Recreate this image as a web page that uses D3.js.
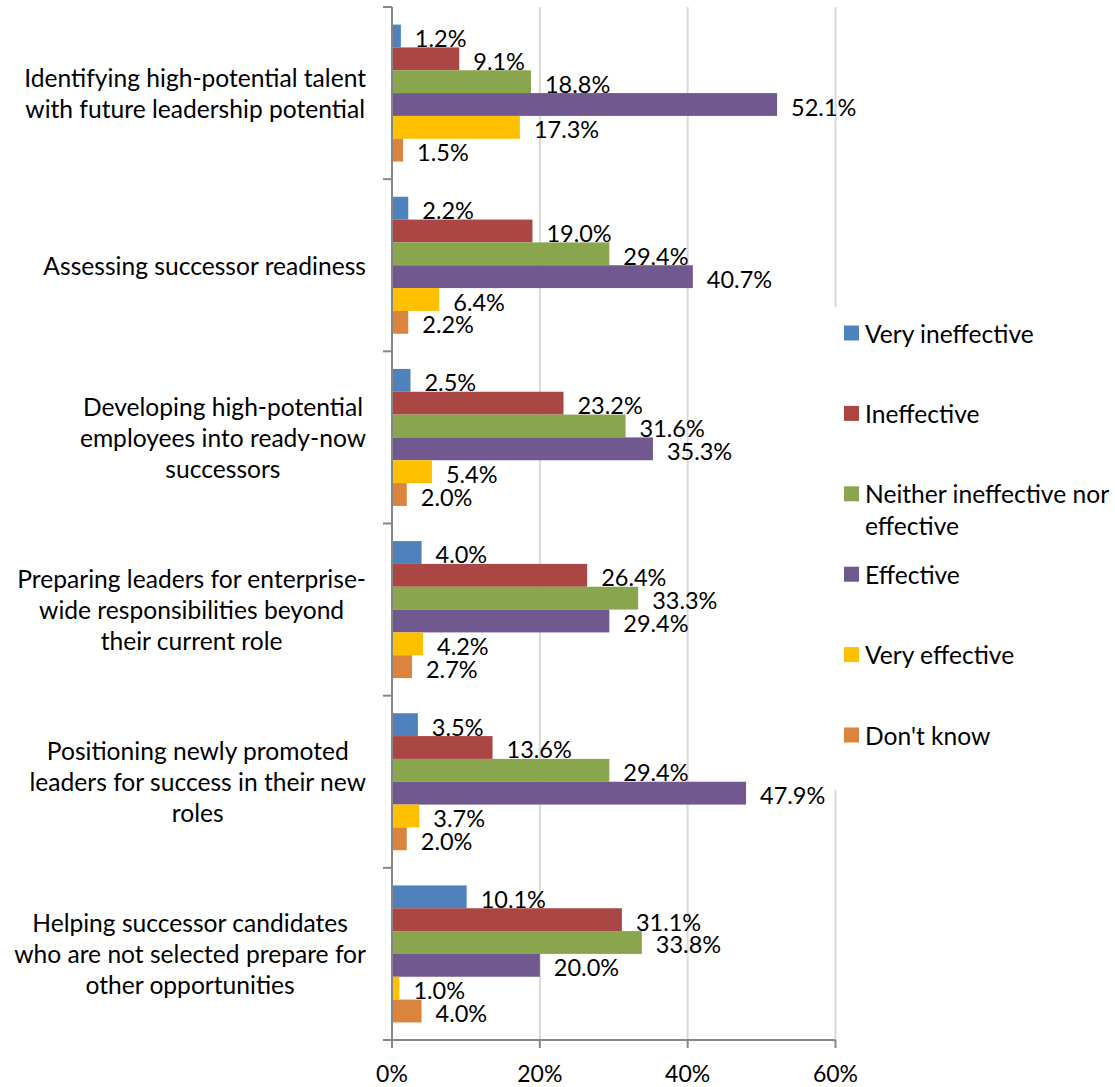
<!DOCTYPE html>
<html>
<head>
<meta charset="utf-8">
<script src="https://cdn.jsdelivr.net/npm/d3@7"></script>
<style>
  html, body { margin: 0; padding: 0; background: #fff; }
  svg { display: block; font-family: Lato, "Open Sans", sans-serif; }
</style>
</head>
<body>
<svg id="chart" width="1115" height="1087"></svg>
<script>
const categories = [
  "Identifying high-potential talent\nwith future leadership potential",
  "Assessing successor readiness",
  "Developing high-potential\nemployees into ready-now\nsuccessors",
  "Preparing leaders for enterprise-\nwide responsibilities beyond\ntheir current role",
  "Positioning newly promoted\nleaders for success in their new\nroles",
  "Helping successor candidates\nwho are not selected prepare for\nother opportunities"
];
const seriesNames = ["Very ineffective", "Ineffective", "Neither ineffective nor effective", "Effective", "Very effective", "Don't know"];
const seriesColors = ["#4F81BD", "#AA4643", "#89A54E", "#71588F", "#FFC000", "#DB843D"];
const veryIneffective = [1.2, 2.2, 2.5, 4.0, 3.5, 10.1];
const ineffective     = [9.1, 19.0, 23.2, 26.4, 13.6, 31.1];
const neither         = [18.8, 29.4, 31.6, 33.3, 29.4, 33.8];
const effective       = [52.1, 40.7, 35.3, 29.4, 47.9, 20.0];
const veryEffective   = [17.3, 6.4, 5.4, 4.2, 3.7, 1.0];
const dontKnow        = [1.5, 2.2, 2.0, 2.7, 2.0, 4.0];
const xTicks = [0, 20, 40, 60];

const seriesValues = [veryIneffective, ineffective, neither, effective, veryEffective, dontKnow];

const svg = d3.select("#chart");
const axisColor = "#868686";
const gridColor = "#D9D9D9";

const x = d3.scaleLinear().domain([0, 60]).range([392, 835.5]);
const y = d3.scaleBand().domain(categories).range([7, 1040]).paddingInner(0).paddingOuter(0);
const ySub = d3.scaleBand().domain(seriesNames).range([0, y.bandwidth()]).paddingInner(0).paddingOuter(0.77);

// gridlines
svg.append("g").selectAll("line").data(xTicks.filter(d => d > 0)).join("line")
  .attr("x1", d => x(d)).attr("x2", d => x(d))
  .attr("y1", 7).attr("y2", 1040)
  .attr("stroke", gridColor).attr("stroke-width", 2);

// legend background (covers gridline)
const legendTop = 307, legendBottom = 790;
svg.append("rect").attr("x", 832).attr("y", legendTop).attr("width", 283).attr("height", legendBottom - legendTop).attr("fill", "#fff");

// bars
const barData = [];
categories.forEach((c, ci) => {
  seriesNames.forEach((s, si) => {
    barData.push({ cat: c, series: s, value: seriesValues[si][ci], color: seriesColors[si] });
  });
});
svg.append("g").selectAll("rect").data(barData).join("rect")
  .attr("x", x(0))
  .attr("y", d => y(d.cat) + ySub(d.series))
  .attr("width", d => x(d.value) - x(0))
  .attr("height", ySub.bandwidth())
  .attr("fill", d => d.color);

// value labels
svg.append("g").selectAll("text").data(barData).join("text")
  .attr("x", d => x(d.value) + 14)
  .attr("y", d => y(d.cat) + ySub(d.series) + ySub.bandwidth() / 2 + 2)
  .attr("dominant-baseline", "central")
  .attr("font-size", 23.5)
  .attr("fill", "#000")
  .text(d => d.value.toFixed(1) + "%");

// y axis
const yAxisG = svg.append("g");
yAxisG.append("line").attr("x1", x(0)).attr("x2", x(0)).attr("y1", 7).attr("y2", 1040)
  .attr("stroke", axisColor).attr("stroke-width", 2);
const boundaries = categories.map(c => y(c)).concat([y(categories[categories.length - 1]) + y.bandwidth()]);
yAxisG.selectAll("line.tick").data(boundaries).join("line").attr("class", "tick")
  .attr("x1", x(0) - 9).attr("x2", x(0)).attr("y1", d => d).attr("y2", d => d)
  .attr("stroke", axisColor).attr("stroke-width", 2);

// category labels
const catG = svg.append("g").attr("font-size", 24.6).attr("fill", "#000");
categories.forEach(c => {
  const lines = c.split("\n");
  const g = catG.append("g");
  const texts = lines.map((l, i) => g.append("text").text(l));
  const maxW = d3.max(texts, t => t.node().getComputedTextLength());
  const cx = 366 - maxW / 2;
  const cy = y(c) + y.bandwidth() / 2;
  const lh = 31;
  texts.forEach((t, i) => {
    t.attr("x", cx).attr("text-anchor", "middle")
     .attr("y", cy + (i - (lines.length - 1) / 2) * lh)
     .attr("dominant-baseline", "central");
  });
});

// x axis
const xAxisG = svg.append("g");
xAxisG.append("line").attr("x1", x(0) - 9).attr("x2", x(60)).attr("y1", 1040).attr("y2", 1040)
  .attr("stroke", axisColor).attr("stroke-width", 2);
xAxisG.selectAll("line.tick").data(xTicks).join("line").attr("class", "tick")
  .attr("x1", d => x(d)).attr("x2", d => x(d)).attr("y1", 1040).attr("y2", 1048)
  .attr("stroke", axisColor).attr("stroke-width", 2);
xAxisG.selectAll("text").data(xTicks).join("text")
  .attr("x", d => x(d)).attr("y", 1082)
  .attr("text-anchor", "middle").attr("font-size", 23).attr("fill", "#000")
  .text(d => d + "%");

// legend
const legendG = svg.append("g").attr("font-size", 24.6);
const legendStep = 80.4;
seriesNames.forEach((s, i) => {
  const cy = 333 + i * legendStep;
  legendG.append("rect").attr("x", 844).attr("y", cy - 7.5).attr("width", 15).attr("height", 15).attr("fill", seriesColors[i]);
  const words = s.split(" ");
  const maxW = 248;
  let lines = [];
  let cur = "";
  const tmp = legendG.append("text").attr("visibility", "hidden");
  words.forEach(w => {
    const test = cur ? cur + " " + w : w;
    tmp.text(test);
    if (tmp.node().getComputedTextLength() > maxW && cur) { lines.push(cur); cur = w; }
    else cur = test;
  });
  lines.push(cur);
  tmp.remove();
  lines.forEach((l, li) => {
    legendG.append("text").attr("x", 865).attr("y", cy + li * 32)
      .attr("dominant-baseline", "central").attr("fill", "#000").text(l);
  });
});
</script>
</body>
</html>
